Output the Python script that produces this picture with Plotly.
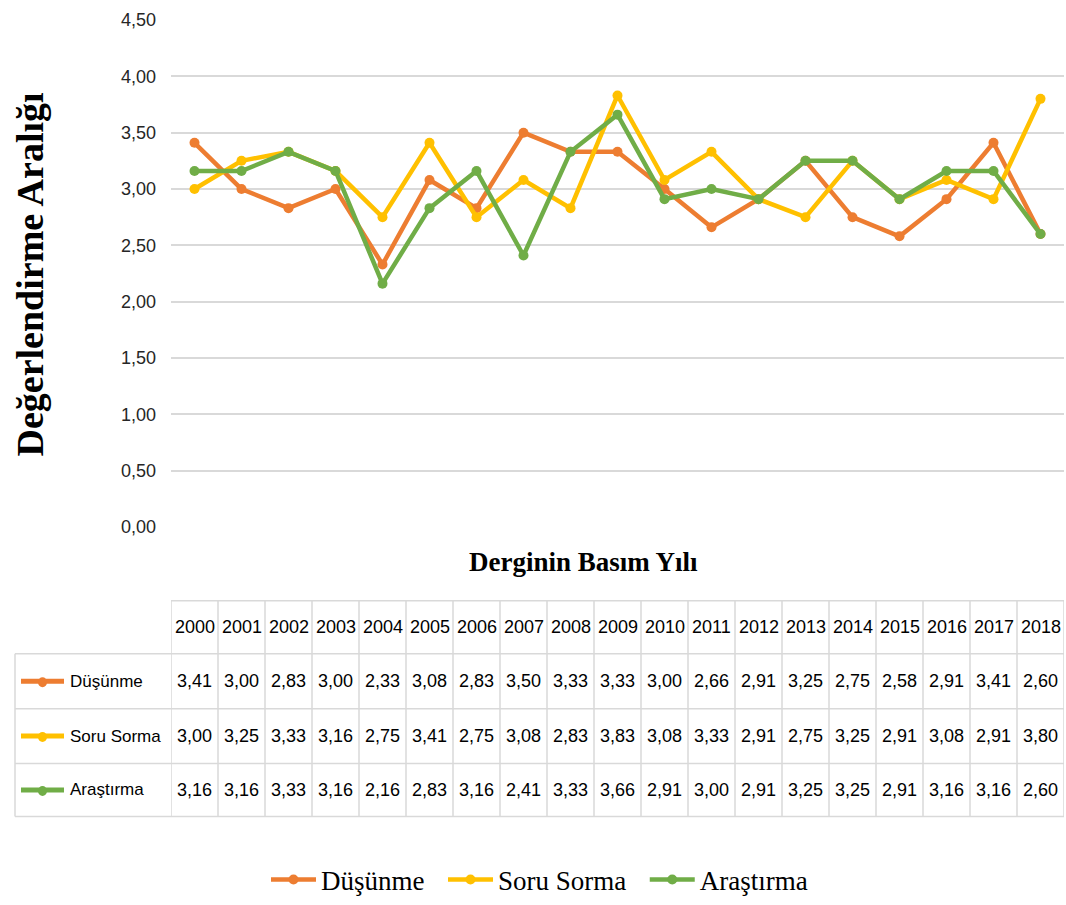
import plotly.graph_objects as go

years = [str(y) for y in range(2000, 2019)]
dusunme = [3.41, 3.00, 2.83, 3.00, 2.33, 3.08, 2.83, 3.50, 3.33, 3.33, 3.00, 2.66, 2.91, 3.25, 2.75, 2.58, 2.91, 3.41, 2.60]
soru_sorma = [3.00, 3.25, 3.33, 3.16, 2.75, 3.41, 2.75, 3.08, 2.83, 3.83, 3.08, 3.33, 2.91, 2.75, 3.25, 2.91, 3.08, 2.91, 3.80]
arastirma = [3.16, 3.16, 3.33, 3.16, 2.16, 2.83, 3.16, 2.41, 3.33, 3.66, 2.91, 3.00, 2.91, 3.25, 3.25, 2.91, 3.16, 3.16, 2.60]
y_ticks = [0, 0.5, 1.0, 1.5, 2.0, 2.5, 3.0, 3.5, 4.0, 4.5]

series = [
    ("Düşünme", dusunme, "#ED7D31"),
    ("Soru Sorma", soru_sorma, "#FFC000"),
    ("Araştırma", arastirma, "#70AD47"),
]

W, H = 1066, 905
L, R, T, B = 171, 2, 20, 377
PW, PH = W - L - R, H - T - B
PLOT_BOTTOM = H - B

def px_x(X):
    return (X - L) / PW

def px_y(Y):
    return (PLOT_BOTTOM - Y) / PH

SANS = "Liberation Sans, Arial, sans-serif"
SERIF = "Liberation Serif, Times New Roman, serif"
PAD = "\u00a0" * 2

fig = go.Figure()
for k, (name, vals, col) in enumerate(series):
    fig.add_trace(go.Scatter(
        x=list(range(len(years))), y=vals, name=name + (PAD if k < len(series) - 1 else ""),
        mode="lines+markers",
        line=dict(color=col, width=4.5),
        marker=dict(color=col, size=10, symbol="circle"),
        hovertemplate=name + " %{customdata}: %{y:.2f}<extra></extra>",
        customdata=years,
    ))

shapes = []
annotations = []
GRID = "#d9d9d9"
row_bounds = [602, 655, 710, 765, 818]
n = len(years)

# horizontal lines of table
for k, yb in enumerate(row_bounds):
    x0 = px_x(15) if k >= 1 else 0
    shapes.append(dict(type="line", xref="paper", yref="paper",
                       x0=x0, x1=1, y0=px_y(yb), y1=px_y(yb),
                       line=dict(color=GRID, width=1.5)))
# vertical lines
for i in range(n + 1):
    shapes.append(dict(type="line", xref="x", yref="paper",
                       x0=i - 0.5, x1=i - 0.5, y0=px_y(row_bounds[0]), y1=px_y(row_bounds[-1]),
                       line=dict(color=GRID, width=1.5)))
shapes.append(dict(type="line", xref="paper", yref="paper",
                   x0=px_x(15), x1=px_x(15), y0=px_y(row_bounds[1]), y1=px_y(row_bounds[-1]),
                   line=dict(color=GRID, width=1.5)))

# header
for i, yr in enumerate(years):
    annotations.append(dict(x=i, xref="x", y=px_y((row_bounds[0] + row_bounds[1]) / 2), yref="paper",
                            text=yr, showarrow=False, font=dict(family=SANS, size=18, color="#000000"),
                            xanchor="center", yanchor="middle"))
# rows
for r, (name, vals, col) in enumerate(series):
    yc = (row_bounds[r + 1] + row_bounds[r + 2]) / 2
    for i, v in enumerate(vals):
        annotations.append(dict(x=i, xref="x", y=px_y(yc), yref="paper",
                                text=f"{v:.2f}".replace(".", ","), showarrow=False,
                                font=dict(family=SANS, size=18, color="#000000"),
                                xanchor="center", yanchor="middle"))
    shapes.append(dict(type="line", xref="paper", yref="paper",
                       x0=px_x(21), x1=px_x(64), y0=px_y(yc), y1=px_y(yc),
                       line=dict(color=col, width=5)))
    shapes.append(dict(type="circle", xref="paper", yref="paper", fillcolor=col, line=dict(width=0),
                       x0=px_x(38), x1=px_x(47), y0=px_y(yc + 6), y1=px_y(yc - 4)))
    annotations.append(dict(x=px_x(68), xref="paper", y=px_y(yc), yref="paper",
                            text=name, showarrow=False, font=dict(family=SANS, size=17, color="#000000"),
                            xanchor="left", yanchor="middle"))

# axis titles
annotations.append(dict(x=px_x(583), xref="paper", y=px_y(563), yref="paper",
                        text="<b>Derginin Basım Yılı</b>", showarrow=False,
                        font=dict(family=SERIF, size=27, color="#000000"),
                        xanchor="center", yanchor="middle"))
annotations.append(dict(x=px_x(30), xref="paper", y=px_y(275), yref="paper",
                        text="<b>Değerlendirme Aralığı</b>", showarrow=False, textangle=-90,
                        font=dict(family=SERIF, size=38, color="#000000"),
                        xanchor="center", yanchor="middle"))

fig.update_layout(
    width=W, height=H,
    margin=dict(l=L, r=R, t=T, b=B),
    paper_bgcolor="white", plot_bgcolor="white",
    separators=",.",
    showlegend=True,
    legend=dict(orientation="h", x=px_x(266), xanchor="left", y=px_y(880), yanchor="middle",
                font=dict(family=SERIF, size=27, color="#000000"),
                itemwidth=45, tracegroupgap=0),
    shapes=shapes,
    annotations=annotations,
)
fig.update_xaxes(range=[-0.5, n - 0.5], showticklabels=False,
                 showgrid=False, zeroline=False, showline=False, ticks="")
fig.update_yaxes(range=[0, 4.5], tickvals=y_ticks, tickformat=".2f",
                 showgrid=True, gridcolor=GRID, gridwidth=1.5, zeroline=False, showline=False,
                 ticks="", ticklabelstandoff=14,
                 tickfont=dict(family=SANS, size=18, color="#262626"))

fig.write_html("out.html", config={"displayModeBar": False},
               post_script="document.body.style.margin='0';")
